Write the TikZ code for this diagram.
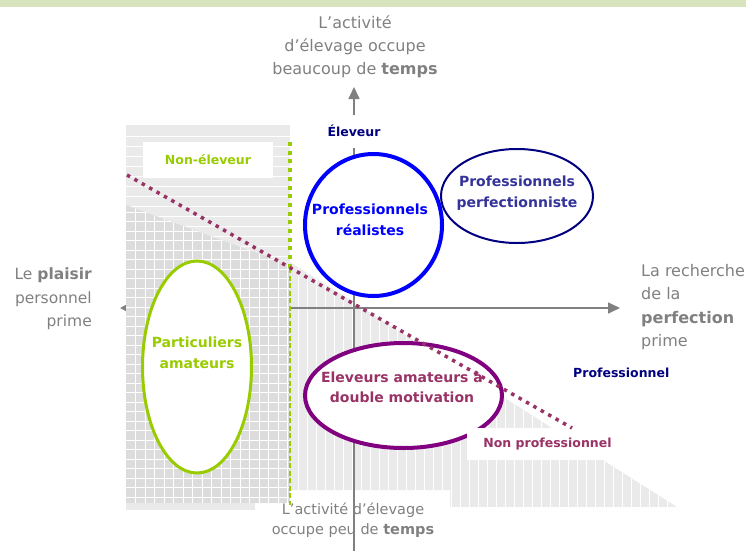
\documentclass[tikz,border=0pt]{standalone}
\usepackage{fontspec}
\setmainfont{DejaVu Sans}
\usetikzlibrary{shapes.geometric, arrows.meta}
\definecolor{axisgray}{HTML}{808080}
\definecolor{lime}{HTML}{99CC00}
\definecolor{plum}{HTML}{993366}
\definecolor{violet}{HTML}{800080}
\definecolor{marine}{HTML}{000080}
\definecolor{indigo}{HTML}{333399}
\definecolor{pale}{HTML}{EAEAEA}
\definecolor{grid}{HTML}{DCDCDC}
\definecolor{band}{HTML}{D7E4BD}
\tikzstyle{axe} = [draw=axisgray, line width=1.6pt]
\tikzstyle{legende} = [text=axisgray, font=\fontsize{16}{23.5}\selectfont, inner sep=0pt]
\tikzstyle{bulle} = [ellipse, draw, fill=white, inner sep=0pt]
\tikzstyle{titre} = [font=\bfseries\fontsize{14}{20.5}\selectfont, align=center, inner sep=0pt]
\tikzstyle{zone} = [font=\bfseries\fontsize{12.5}{15}\selectfont, inner sep=0pt]

\begin{document}
\begin{tikzpicture}[x=1pt, y=-1pt]
        \useasboundingbox (0,0) rectangle (746,552);
        \fill[band] (0,0) rectangle (746,7);

        \begin{scope}
            \clip (290,262) -- (677,507) -- (450,507) -- (450,490) -- (290,490) -- cycle;
            \fill[pale] (290,262) rectangle (677,507);
            \foreach \x in {298,307,...,680} \draw[white, line width=1pt] (\x,262) -- (\x,507);
        \end{scope}

        \coordinate (ouest) at (120,308);
        \coordinate (est) at (620,308);
        \coordinate (nord) at (354,87);
        \coordinate (sud) at (354,551);
        \draw[axe, -{Triangle[length=12pt, width=11pt]}] (sud) -- (nord);
        \draw[axe, {Triangle[length=7pt, width=7pt]}-{Triangle[length=12pt, width=11pt]}] (ouest) -- (est);

        \begin{scope}
            \clip (126,125) -- (290,125) -- (290,265) -- (126,205) -- cycle;
            \fill[pale] (126,125) rectangle (290,265);
            \foreach \y in {136,146,...,266} \draw[white, line width=1pt] (126,\y) -- (290,\y);
        \end{scope}
        \begin{scope}
            \clip (126,205) -- (290,265) -- (290,503) -- (126,503) -- cycle;
            \fill[grid] (126,205) rectangle (290,503);
            \foreach \x in {135.5,145,...,290} \draw[white, line width=0.8pt] (\x,205) -- (\x,503);
            \foreach \y in {212,221.5,...,503} \draw[white, line width=0.8pt] (126,\y) -- (290,\y);
        \end{scope}
        \fill[pale] (126,503) rectangle (255,510);

        \node (noneleveur) [zone, text=lime, fill=white, minimum width=130, minimum height=36] at (208,160) {Non-éleveur};
        \coordinate (vert1) at (290,142);
        \coordinate (vert2) at (290,268);
        \coordinate (vert3) at (290,505);
        \draw[lime, line width=4pt, dash pattern=on 4pt off 4.7pt] (vert1) -- (vert2);
        \draw[lime, line width=1.5pt, dash pattern=on 5pt off 2.5pt] (vert2) -- (vert3);

        \node (particuliers) [bulle, draw=lime, line width=3pt, minimum width=109, minimum height=212] at (197,367) {};
        \node [titre, text=lime] at (197,353) {Particuliers\\amateurs};
        \node (realistes) [bulle, draw=blue, line width=4pt, minimum width=137, minimum height=142] at (373.5,225) {};
        \node [titre, text=blue] at (370,220) {Professionnels\\réalistes};
        \node (perfection) [bulle, draw=marine, line width=2pt, minimum width=152, minimum height=94] at (517,196) {};
        \node [titre, text=indigo] at (517,193) {Professionnels\\perfectionniste};
        \node (double) [bulle, draw=violet, line width=4pt, minimum width=197, minimum height=105] at (403.5,395.5) {};
        \node [titre, text=plum] at (402,387) {Eleveurs amateurs à\\double motivation};

        \node (nonpro) [zone, text=plum, fill=white, minimum width=161, minimum height=32] at (547.5,444) {Non professionnel};
        \coordinate (seuil1) at (127,175);
        \coordinate (seuil2) at (572,428);
        \draw[plum, line width=3.5pt, dash pattern=on 3.5pt off 5pt] (seuil1) -- (seuil2);

        \node (eleveur) [zone, text=marine, fill=white, minimum height=33, inner xsep=2pt] at (354,131) {Éleveur};
        \node (pro) [zone, text=marine, anchor=west] at (573,373) {Professionnel};

        \node (haut) [legende, align=center, font=\fontsize{16}{23}\selectfont] at (355,47) {L’activité\\d’élevage occupe\\beaucoup de \textbf{temps}};
        \node (bas) [legende, align=center, font=\fontsize{14.5}{20}\selectfont] at (353,520) {L’activité d’élevage\\occupe peu de \textbf{temps}};
        \node (droite) [legende, align=left, anchor=west] at (641,307) {La recherche\\de la\\\textbf{perfection}\\prime};
        \node (gauche) [legende, align=right, font=\fontsize{15.5}{23.5}\selectfont, anchor=east] at (92,299) {Le \textbf{plaisir}\\personnel\\prime};
    \end{tikzpicture}
\end{document}
